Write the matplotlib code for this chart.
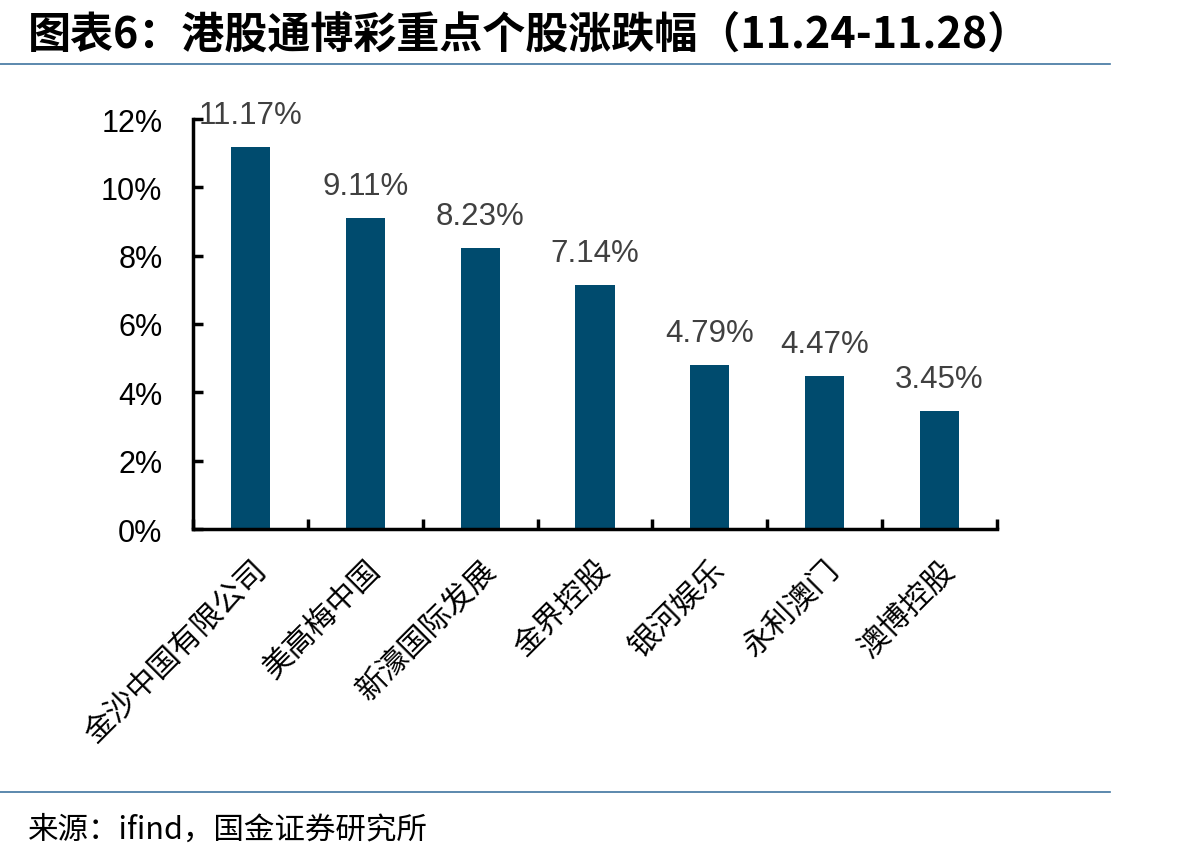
import matplotlib
matplotlib.use('Agg')
from matplotlib import pyplot as plt
from matplotlib.ticker import FuncFormatter

plt.rcParams['font.family'] = ['Liberation Sans', 'Noto Sans CJK SC', 'DejaVu Sans']

stocks = ['金沙中国有限公司', '美高梅中国', '新濠国际发展', '金界控股', '银河娱乐', '永利澳门', '澳博控股']
changes = [11.17, 9.11, 8.23, 7.14, 4.79, 4.47, 3.45]
yticks = [0, 2, 4, 6, 8, 10, 12]

bar_color = '#004B6E'
line_color = '#3F74A0'
cjk = ['Noto Sans CJK SC', 'DejaVu Sans']

fig = plt.figure(figsize=(12, 8.62), dpi=100)
ax = fig.add_axes([193/1200, 1-530/862, (997-193)/1200, (530-120)/862])

x = range(len(stocks))
ax.bar(x, changes, width=0.34, color=bar_color)
for i, v in zip(x, changes):
    ax.text(i, v + 0.5, f'{v:.2f}%', ha='center', va='bottom', fontsize=22.5, color='#404040')

ax.set_xlim(-0.5, len(stocks) - 0.5)
ax.set_ylim(0, 12)
ax.set_yticks(yticks)
ax.yaxis.set_major_formatter(FuncFormatter(lambda v, p: f'{v:.0f}%'))
ax.tick_params(axis='y', direction='in', length=7, width=2.5, labelsize=22, pad=22)
ax.set_xticks([i + 0.5 for i in range(-1, len(stocks))], minor=False)
ax.set_xticklabels([])
ax.tick_params(axis='x', direction='in', length=7, width=2.5)
ax.set_xticks(list(x), minor=True)
ax.set_xticklabels(stocks, minor=True, rotation=45, ha='right', rotation_mode='anchor',
                   family=cjk, fontsize=22)
ax.tick_params(axis='x', which='minor', length=0, pad=18)
for s in ['top', 'right']:
    ax.spines[s].set_visible(False)
for s in ['left', 'bottom']:
    ax.spines[s].set_linewidth(2.5)

fig.text(28/1200, 1-35/862, '图表6：港股通博彩重点个股涨跌幅（11.24-11.28）', family=cjk,
         fontsize=31, fontweight='bold', style='italic', va='center', ha='left')
fig.add_artist(plt.Line2D([0, 1110/1200], [1-65/862, 1-65/862], color=line_color, lw=1.2))
fig.add_artist(plt.Line2D([0, 1110/1200], [1-793/862, 1-793/862], color=line_color, lw=1.2))
fig.text(28/1200, 1-830/862, '来源：ifind，国金证券研究所', family=cjk, fontsize=22,
         va='center', ha='left')

fig.savefig('out.png', dpi=100)
